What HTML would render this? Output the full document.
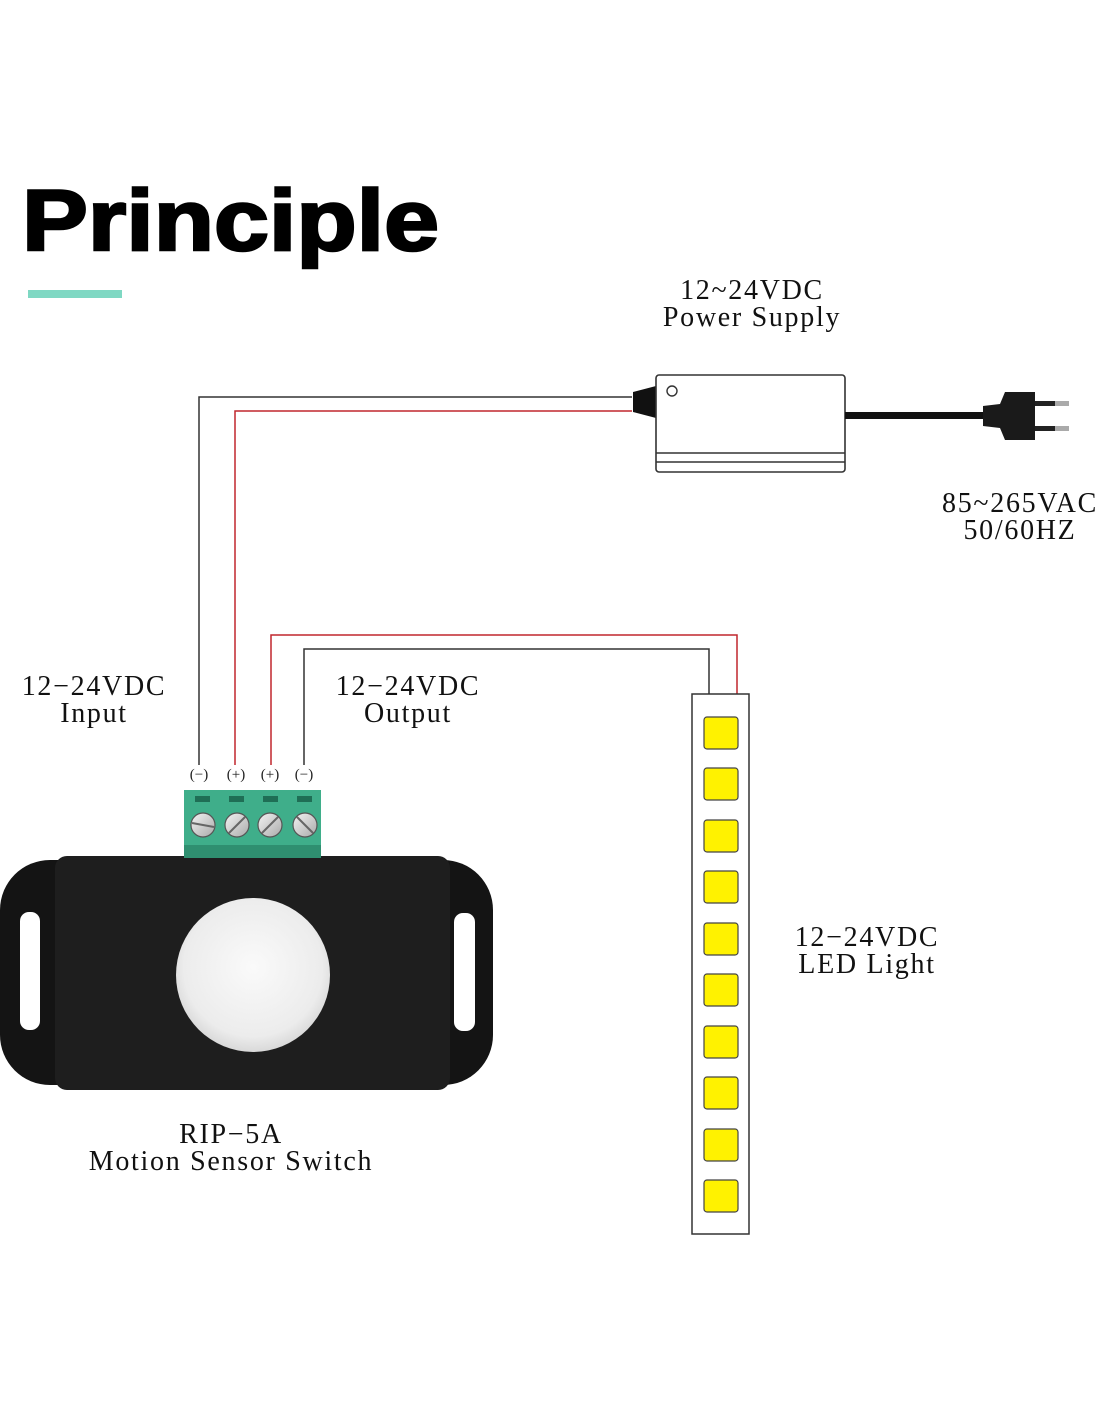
<!DOCTYPE html>
<html><head><meta charset="utf-8"><style>
html,body{margin:0;padding:0;background:#fff;}
svg{display:block;}
.s{font-family:"Liberation Serif",serif;font-size:28px;fill:#111;text-anchor:middle;letter-spacing:1.7px;}
</style></head><body>
<svg width="1100" height="1422" viewBox="0 0 1100 1422" xmlns="http://www.w3.org/2000/svg">
<defs>
<radialGradient id="dome" cx="0.5" cy="0.45" r="0.6">
<stop offset="0" stop-color="#fafafa"/><stop offset="0.75" stop-color="#ececec"/><stop offset="1" stop-color="#cfcfcf"/>
</radialGradient>
<linearGradient id="scr" x1="0" y1="0" x2="1" y2="1"><stop offset="0" stop-color="#f4f4f4"/><stop offset="1" stop-color="#a9a9a9"/></linearGradient>
</defs>
<text x="22" y="250" font-family="Liberation Sans,sans-serif" font-weight="bold" font-size="86" fill="#000" stroke="#000" stroke-width="2.5" textLength="417" lengthAdjust="spacingAndGlyphs">Principle</text>
<rect x="28" y="290" width="94" height="8" fill="#7fd8c3"/>

<polyline points="632,397 199,397 199,765" fill="none" stroke="#333" stroke-width="1.5"/>
<polyline points="632,411 235,411 235,765" fill="none" stroke="#c0272d" stroke-width="1.5"/>
<polyline points="271,765 271,635 737,635 737,694" fill="none" stroke="#c0272d" stroke-width="1.5"/>
<polyline points="304,765 304,649 709,649 709,694" fill="none" stroke="#333" stroke-width="1.5"/>

<polygon points="633,392 656,386 656,418 633,412" fill="#111"/>
<rect x="656" y="375" width="189" height="97" rx="3" fill="#fff" stroke="#333" stroke-width="1.6"/>
<line x1="656" y1="453" x2="845" y2="453" stroke="#333" stroke-width="1.5"/>
<line x1="656" y1="462" x2="845" y2="462" stroke="#333" stroke-width="1.5"/>
<circle cx="672" cy="391" r="5" fill="#fff" stroke="#333" stroke-width="1.4"/>
<rect x="845" y="412" width="140" height="7" fill="#111"/>
<path d="M983 406 L1000 404 L1005 392 L1035 392 L1035 440 L1005 440 L1000 428 L983 426 Z" fill="#1a1a1a"/>
<rect x="1035" y="401" width="20" height="5" fill="#222"/><rect x="1055" y="401" width="14" height="5" fill="#aaa"/>
<rect x="1035" y="426" width="20" height="5" fill="#222"/><rect x="1055" y="426" width="14" height="5" fill="#aaa"/>

<text class="s" x="752" y="299">12~24VDC</text>
<text class="s" x="752" y="326">Power Supply</text>
<text class="s" x="1020" y="512">85~265VAC</text>
<text class="s" x="1020" y="539">50/60HZ</text>
<text class="s" x="94" y="695">12−24VDC</text>
<text class="s" x="94" y="722">Input</text>
<text class="s" x="408" y="695">12−24VDC</text>
<text class="s" x="408" y="722">Output</text>
<text class="s" x="867" y="946">12−24VDC</text>
<text class="s" x="867" y="973">LED Light</text>
<text class="s" x="231" y="1143">RIP−5A</text>
<text class="s" x="231" y="1170">Motion Sensor Switch</text>

<g font-family="Liberation Serif,serif" font-size="15" fill="#222" text-anchor="middle">
<text x="199" y="779">(−)</text><text x="236" y="779">(+)</text><text x="270" y="779">(+)</text><text x="304" y="779">(−)</text>
</g>

<rect x="0" y="860" width="493" height="225" rx="50" fill="#141414"/>
<rect x="55" y="856" width="395" height="234" rx="12" fill="#1e1e1e"/>
<rect x="20" y="912" width="20" height="118" rx="9" fill="#fff"/>
<rect x="454" y="913" width="21" height="118" rx="9" fill="#fff"/>
<circle cx="253" cy="975" r="77" fill="url(#dome)"/>

<rect x="184" y="790" width="137" height="68" fill="#3fae8a"/>
<rect x="184" y="845" width="137" height="13" fill="#2f8f70"/>
<g fill="#1f6e55">
<rect x="195" y="796" width="15" height="6"/><rect x="229" y="796" width="15" height="6"/><rect x="263" y="796" width="15" height="6"/><rect x="297" y="796" width="15" height="6"/>
</g>
<g stroke="#555" stroke-width="1.2">
<circle cx="203" cy="825" r="12" fill="url(#scr)"/><circle cx="237" cy="825" r="12" fill="url(#scr)"/><circle cx="270" cy="825" r="12" fill="url(#scr)"/><circle cx="305" cy="825" r="12" fill="url(#scr)"/>
</g>
<g stroke="#666" stroke-width="2">
<line x1="192" y1="823" x2="214" y2="827"/><line x1="229" y1="833" x2="245" y2="817"/><line x1="262" y1="833" x2="278" y2="817"/><line x1="297" y1="817" x2="313" y2="833"/>
</g>

<rect x="692" y="694" width="57" height="540" fill="#fff" stroke="#333" stroke-width="1.5"/>
<g fill="#fff200" stroke="#444" stroke-width="1.2">
<rect x="704" y="717" width="34" height="32" rx="3"/>
<rect x="704" y="768" width="34" height="32" rx="3"/>
<rect x="704" y="820" width="34" height="32" rx="3"/>
<rect x="704" y="871" width="34" height="32" rx="3"/>
<rect x="704" y="923" width="34" height="32" rx="3"/>
<rect x="704" y="974" width="34" height="32" rx="3"/>
<rect x="704" y="1026" width="34" height="32" rx="3"/>
<rect x="704" y="1077" width="34" height="32" rx="3"/>
<rect x="704" y="1129" width="34" height="32" rx="3"/>
<rect x="704" y="1180" width="34" height="32" rx="3"/>
</g>
</svg>
</body></html>
